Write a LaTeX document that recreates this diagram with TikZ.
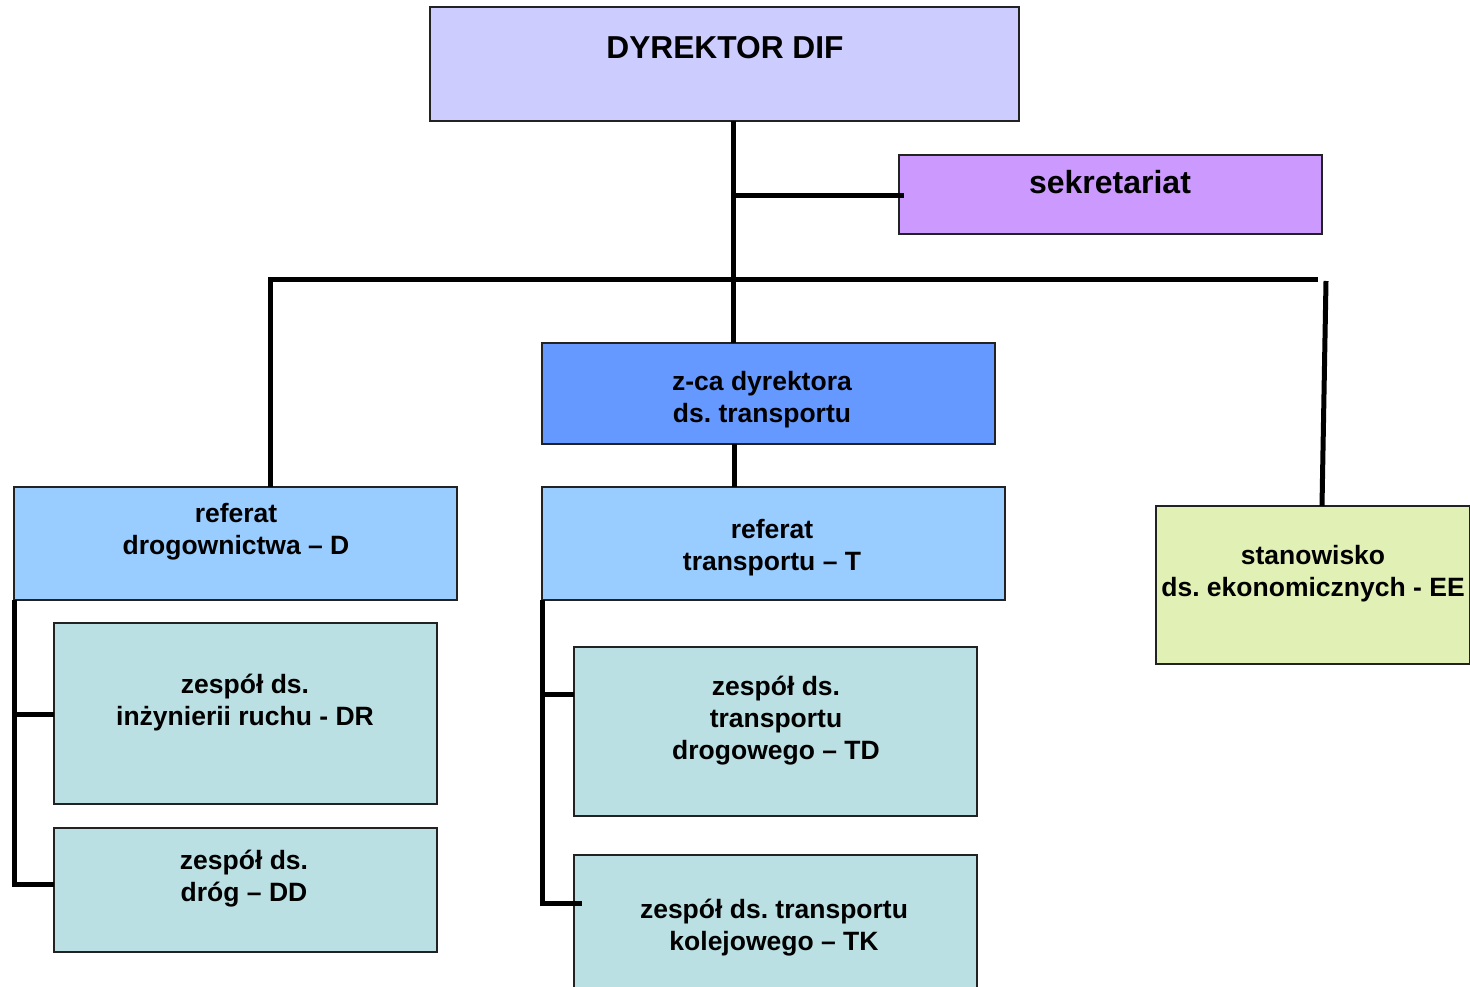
\documentclass[tikz,border=0pt]{standalone}
\usepackage{fontspec}
\setmainfont{Liberation Sans}
\frenchspacing
\definecolor{cDyr}{HTML}{CCCCFF}
\definecolor{cSek}{HTML}{CC99FF}
\definecolor{cZca}{HTML}{6699FF}
\definecolor{cRef}{HTML}{99CCFF}
\definecolor{cZes}{HTML}{BBE0E3}
\definecolor{cSta}{HTML}{E1F0B4}
\definecolor{cEdge}{HTML}{222222}
\begin{document}
\begin{tikzpicture}[x=1pt,y=-1pt,
  box/.style={draw=cEdge, line width=1.4pt, rectangle, inner sep=0pt, outer sep=0pt},
  txt/.style={font=\fontsize{26.5}{32}\selectfont\bfseries\frenchspacing, align=center, inner sep=0pt, text=black},
  conn/.style={line width=5pt, draw=black}]
\useasboundingbox (0,0) rectangle (1470,987);
% boxes
\node[box, fill=cDyr, minimum width=589pt, minimum height=114pt] (dyr) at (724.5,64) {};
\node[box, fill=cSek, minimum width=423pt, minimum height=79pt] (sek) at (1110.5,194.5) {};
\node[box, fill=cZca, minimum width=453pt, minimum height=101pt] (zca) at (768.5,393.5) {};
\node[box, fill=cRef, minimum width=443pt, minimum height=113pt] (refD) at (235.5,543.5) {};
\node[box, fill=cRef, minimum width=463pt, minimum height=113pt] (refT) at (773.5,543.5) {};
\node[box, fill=cSta, minimum width=314pt, minimum height=158pt] (sta) at (1313,585) {};
\node[box, fill=cZes, minimum width=383pt, minimum height=181pt] (dr) at (245.5,713.5) {};
\node[box, fill=cZes, minimum width=383pt, minimum height=124pt] (dd) at (245.5,890) {};
\node[box, fill=cZes, minimum width=403pt, minimum height=169pt] (td) at (775.5,731.5) {};
\node[box, fill=cZes, minimum width=403pt, minimum height=150pt] (tk) at (775.5,930) {};
% texts
\node[txt, font=\fontsize{31.7}{38}\selectfont\bfseries] (dyrT) at (725,48) {DYREKTOR DIF};
\node[txt, font=\fontsize{32}{38}\selectfont\bfseries] (sekT) at (1110,182) {sekretariat};
\node[txt] (zcaT) at (762,399.5) {z-ca dyrektora\\ds. transportu};
\node[txt] (refDT) at (236,532) {referat\\drogownictwa -- D};
\node[txt] (refTT) at (772,548) {referat\\transportu -- T};
\node[txt] (staT) at (1313,574) {stanowisko\\ds. ekonomicznych - EE};
\node[txt] (drT) at (245,703) {zespół ds.\\inżynierii ruchu - DR};
\node[txt] (ddT) at (244,879) {zespół ds.\\dróg -- DD};
\node[txt] (tdT) at (776,721) {zespół ds.\\transportu\\drogowego -- TD};
\node[txt] (tkT) at (774,928) {zespół ds. transportu\\kolejowego -- TK};
% joints
\coordinate (busL) at (270,279);
\coordinate (busR) at (1318,279);
\coordinate (staTop) at (1326,281);
\coordinate (sekJ) at (733,196);
\coordinate (dRbr) at (14,714);
\coordinate (dDbr) at (14,884);
\coordinate (tDbr) at (542,694);
\coordinate (tKbr) at (542,903);
% connectors
\draw[conn] (dyr.south -| sekJ) -- (zca.north -| sekJ);
\draw[conn] (sekJ) -- ([xshift=5pt]sek.west |- sekJ);
\draw[conn] (refD.north -| busL) -- (busL) -- (busR);
\draw[conn] (staTop) -- (1322,506) coordinate (staJ);
\draw[conn] (zca.south -| 734,0) -- (refT.north -| 734,0);
\draw[conn] (refD.south west) -- (dDbr) -- (dd.west |- dDbr);
\draw[conn] (dRbr) -- (dr.west |- dRbr);
\draw[conn] (refT.south west) -- (tKbr) -- ([xshift=8pt]tk.west |- tKbr);
\draw[conn] (tDbr) -- (td.west |- tDbr);
\end{tikzpicture}
\end{document}
